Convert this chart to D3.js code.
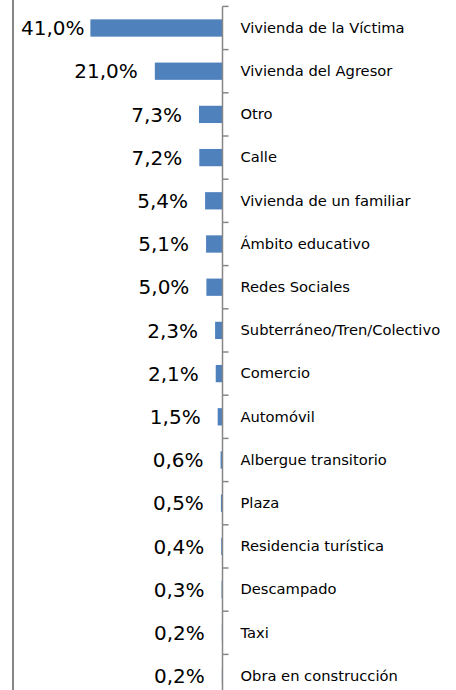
<!DOCTYPE html>
<html>
<head>
<meta charset="utf-8">
<script src="https://cdn.jsdelivr.net/npm/d3@7"></script>
<style>
  body { margin: 0; background: #fff; }
  svg { display: block; }
</style>
</head>
<body>
<div id="chart"></div>
<script>
'use strict';

// lugares donde ocurrieron los hechos
var categories = [
    'Vivienda de la Víctima', 'Vivienda del Agresor', 'Otro', 'Calle',
    'Vivienda de un familiar', 'Ámbito educativo', 'Redes Sociales',
    'Subterráneo/Tren/Colectivo', 'Comercio', 'Automóvil',
    'Albergue transitorio', 'Plaza', 'Residencia turística', 'Descampado',
    'Taxi', 'Obra en construcción'
];
var values = [41.0, 21.0, 7.3, 7.2, 5.4, 5.1, 5.0, 2.3, 2.1, 1.5, 0.6, 0.5, 0.4, 0.3, 0.2, 0.2];
var valueLabels = ['41,0%', '21,0%', '7,3%', '7,2%', '5,4%', '5,1%', '5,0%', '2,3%',
    '2,1%', '1,5%', '0,6%', '0,5%', '0,4%', '0,3%', '0,2%', '0,2%'];

var width = 456, height = 690;
var axisX = 222.5;
var grey = '#868686';
var font = '"DejaVu Sans", sans-serif';

var svg = d3.select('#chart').append('svg')
    .attr('width', width)
    .attr('height', height);

svg.append('rect')
    .attr('width', width)
    .attr('height', height)
    .attr('fill', '#fff');

// bars grow to the left
var x = d3.scaleLinear()
    .domain([0, 45])
    .range([axisX, axisX - 145]);

var y = d3.scaleBand()
    .domain(categories)
    .range([6.4, 697.6])
    .paddingInner(0.6)
    .paddingOuter(0.3);

var data = categories.map(function(c, i) {
    return {cat: c, value: values[i], label: valueLabels[i]};
});

// chart area border (left edge only visible)
svg.append('line')
    .attr('x1', 13).attr('x2', 13)
    .attr('y1', 0).attr('y2', height)
    .attr('stroke', grey)
    .attr('stroke-width', 2);

svg.selectAll('rect.bar')
    .data(data)
    .enter().append('rect')
    .attr('class', 'bar')
    .attr('x', function(d) { return x(d.value); })
    .attr('y', function(d) { return y(d.cat); })
    .attr('width', function(d) { return axisX - x(d.value); })
    .attr('height', y.bandwidth())
    .attr('fill', '#4F81BD');

// category axis on the right, ticks between categories
var step = y.step();
var bounds = categories.map(function(c) {
    return y(c) + y.bandwidth() / 2 - step / 2;
});
bounds.push(bounds[bounds.length - 1] + step);

var axis = svg.append('g').attr('class', 'axis');
axis.append('line')
    .attr('x1', axisX).attr('x2', axisX)
    .attr('y1', bounds[0]).attr('y2', bounds[bounds.length - 1])
    .attr('stroke', grey)
    .attr('stroke-width', 1.5);
axis.selectAll('line.tick')
    .data(bounds)
    .enter().append('line')
    .attr('class', 'tick')
    .attr('x1', axisX).attr('x2', axisX + 6)
    .attr('y1', function(d) { return d; })
    .attr('y2', function(d) { return d; })
    .attr('stroke', grey)
    .attr('stroke-width', 1.5);

var labelAxis = d3.axisRight(y).tickSize(0).tickPadding(18);
var gl = svg.append('g')
    .attr('transform', 'translate(' + axisX + ',0)')
    .call(labelAxis);
gl.select('.domain').remove();
gl.selectAll('text')
    .attr('font-family', font)
    .attr('font-size', 14.7)
    .attr('fill', '#000');

// value labels
svg.selectAll('text.val')
    .data(data)
    .enter().append('text')
    .attr('class', 'val')
    .attr('y', function(d) { return y(d.cat) + y.bandwidth() / 2; })
    .attr('dy', '0.36em')
    .attr('font-family', font)
    .attr('font-size', 20)
    .attr('fill', '#000')
    .text(function(d) { return d.label; })
    .each(function(d) {
        var w = this.getComputedTextLength();
        var end = x(d.value) - 17;
        if (end - w < 21) end = 21 + w;
        d3.select(this).attr('x', end).attr('text-anchor', 'end');
    });
</script>
</body>
</html>
